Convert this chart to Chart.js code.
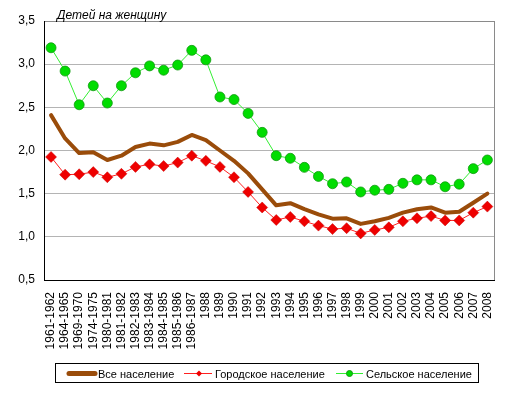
<!DOCTYPE html>
<html>
<head>
<meta charset="utf-8">
<script src="https://cdn.jsdelivr.net/npm/chart.js@4/dist/chart.umd.min.js"></script>
<style>
html,body{margin:0;padding:0;background:#fff;}
#c{display:block;}
</style>
</head>
<body>
<canvas id="c" width="514" height="393"></canvas>
<script>
const categories = ["1961-1962","1964-1965","1969-1970","1974-1975","1980-1981","1981-1982","1982-1983","1983-1984","1984-1985","1985-1986","1986-1987","1988","1989","1990","1991","1992","1993","1994","1995","1996","1997","1998","1999","2000","2001","2002","2003","2004","2005","2006","2007","2008"];
const allPopulation = [2.41,2.14,1.97,1.98,1.89,1.94,2.04,2.08,2.06,2.10,2.18,2.12,2.00,1.88,1.735,1.55,1.365,1.39,1.32,1.26,1.21,1.215,1.15,1.18,1.22,1.28,1.32,1.34,1.28,1.29,1.395,1.50];
const urbanPopulation = [1.925,1.72,1.725,1.75,1.69,1.73,1.81,1.84,1.82,1.86,1.94,1.88,1.81,1.69,1.52,1.34,1.195,1.23,1.18,1.13,1.09,1.10,1.04,1.08,1.11,1.18,1.215,1.24,1.19,1.19,1.28,1.35];
const ruralPopulation = [3.19,2.92,2.53,2.75,2.55,2.75,2.90,2.98,2.93,2.99,3.16,3.05,2.62,2.59,2.43,2.21,1.94,1.91,1.805,1.70,1.615,1.635,1.52,1.54,1.55,1.62,1.66,1.66,1.58,1.61,1.79,1.89];
const seriesNames = ["Все население","Городское население","Сельское население"];
const yTicks = [0.5,1.0,1.5,2.0,2.5,3.0,3.5];
const axisTitle = "Детей на женщину";

const FONT = "'Liberation Sans', Arial, sans-serif";
const BROWN = "#9a4c0a";
const RED_LINE = "#ff2020";
const RED_FILL = "#ee0000";
const GREEN_LINE = "#33ee33";
const GREEN_FILL = "#00dd00";
const GREEN_EDGE = "#119911";

const decor = {
  id: 'decor',
  afterDraw(chart) {
    const ctx = chart.ctx;
    const a = chart.chartArea;
    ctx.save();
    // right border
    ctx.strokeStyle = '#8a8a8a';
    ctx.lineWidth = 1;
    ctx.beginPath();
    ctx.moveTo(Math.round(a.right) + 0.5, a.top);
    ctx.lineTo(Math.round(a.right) + 0.5, a.bottom);
    ctx.stroke();
    // title
    ctx.fillStyle = '#000';
    ctx.font = "italic 12px " + FONT;
    ctx.textBaseline = 'alphabetic';
    ctx.textAlign = 'left';
    ctx.fillText(axisTitle, a.left + 13, 19);
    // legend box
    ctx.strokeStyle = '#000';
    ctx.strokeRect(55.5, 363.5, 423, 19);
    const cy = 373.5;
    ctx.font = "11px " + FONT;
    ctx.textBaseline = 'middle';
    // item 1
    ctx.strokeStyle = BROWN; ctx.lineWidth = 5; ctx.lineCap = 'round';
    ctx.beginPath(); ctx.moveTo(69, cy); ctx.lineTo(95, cy); ctx.stroke();
    ctx.fillStyle = '#000';
    ctx.fillText(seriesNames[0], 98, cy + 1);
    // item 2
    ctx.lineCap = 'butt';
    ctx.strokeStyle = RED_LINE; ctx.lineWidth = 1;
    ctx.beginPath(); ctx.moveTo(184, cy); ctx.lineTo(212, cy); ctx.stroke();
    ctx.fillStyle = RED_FILL;
    ctx.beginPath(); ctx.moveTo(199, cy - 3); ctx.lineTo(202, cy); ctx.lineTo(199, cy + 3); ctx.lineTo(196, cy); ctx.closePath(); ctx.fill();
    ctx.fillStyle = '#000';
    ctx.fillText(seriesNames[1], 215, cy + 1);
    // item 3
    ctx.strokeStyle = GREEN_LINE;
    ctx.beginPath(); ctx.moveTo(336, cy); ctx.lineTo(363, cy); ctx.stroke();
    ctx.fillStyle = GREEN_FILL; ctx.strokeStyle = GREEN_EDGE;
    ctx.beginPath(); ctx.arc(349.5, cy, 3, 0, Math.PI * 2); ctx.fill(); ctx.stroke();
    ctx.fillStyle = '#000';
    ctx.fillText(seriesNames[2], 366, cy + 1);
    ctx.restore();
  }
};

new Chart(document.getElementById('c'), {
  type: 'line',
  data: {
    labels: categories,
    datasets: [
      {
        label: seriesNames[0], data: allPopulation,
        borderColor: BROWN, borderWidth: 4, pointRadius: 0, tension: 0,
        borderJoinStyle: 'round', borderCapStyle: 'round', order: 3
      },
      {
        label: seriesNames[1], data: urbanPopulation,
        borderColor: RED_LINE, borderWidth: 1, tension: 0,
        pointStyle: 'rectRot', pointRadius: 5.5, pointBackgroundColor: RED_FILL,
        pointBorderColor: '#cc0000', pointBorderWidth: 0.5, order: 2
      },
      {
        label: seriesNames[2], data: ruralPopulation,
        borderColor: GREEN_LINE, borderWidth: 1, tension: 0,
        pointStyle: 'circle', pointRadius: 5, pointBackgroundColor: GREEN_FILL,
        pointBorderColor: GREEN_EDGE, pointBorderWidth: 0.8, order: 1
      }
    ]
  },
  options: {
    responsive: false,
    animation: false,
    layout: { padding: { left: 0, right: 16, top: 21, bottom: 0 } },
    plugins: { legend: { display: false }, tooltip: { enabled: false }, title: { display: false } },
    scales: {
      x: {
        offset: true,
        grid: { display: false, drawTicks: false },
        border: { display: true, color: '#000', width: 1 },
        ticks: {
          autoSkip: false, minRotation: 90, maxRotation: 90, padding: 12,
          color: '#000', font: { family: FONT, size: 12 }
        },
        afterFit(scale) { scale.height = 113; }
      },
      y: {
        min: 0.5, max: 3.5,
        afterBuildTicks(scale) { scale.ticks = yTicks.map(v => ({ value: v })); },
        grid: {
          drawTicks: false,
          color(ctx) {
            const v = ctx.tick && ctx.tick.value;
            if (v === 0.5) return 'rgba(0,0,0,0)';
            if (v === 3.5) return '#8a8a8a';
            return '#b4b4b4';
          }
        },
        border: { display: true, color: '#000', width: 1 },
        ticks: {
          padding: 9, color: '#000', font: { family: FONT, size: 12 },
          callback(v) { return Number(v).toFixed(1).replace('.', ','); }
        },
        afterFit(scale) { scale.width = 44; }
      }
    }
  },
  plugins: [decor]
});
</script>
</body>
</html>
